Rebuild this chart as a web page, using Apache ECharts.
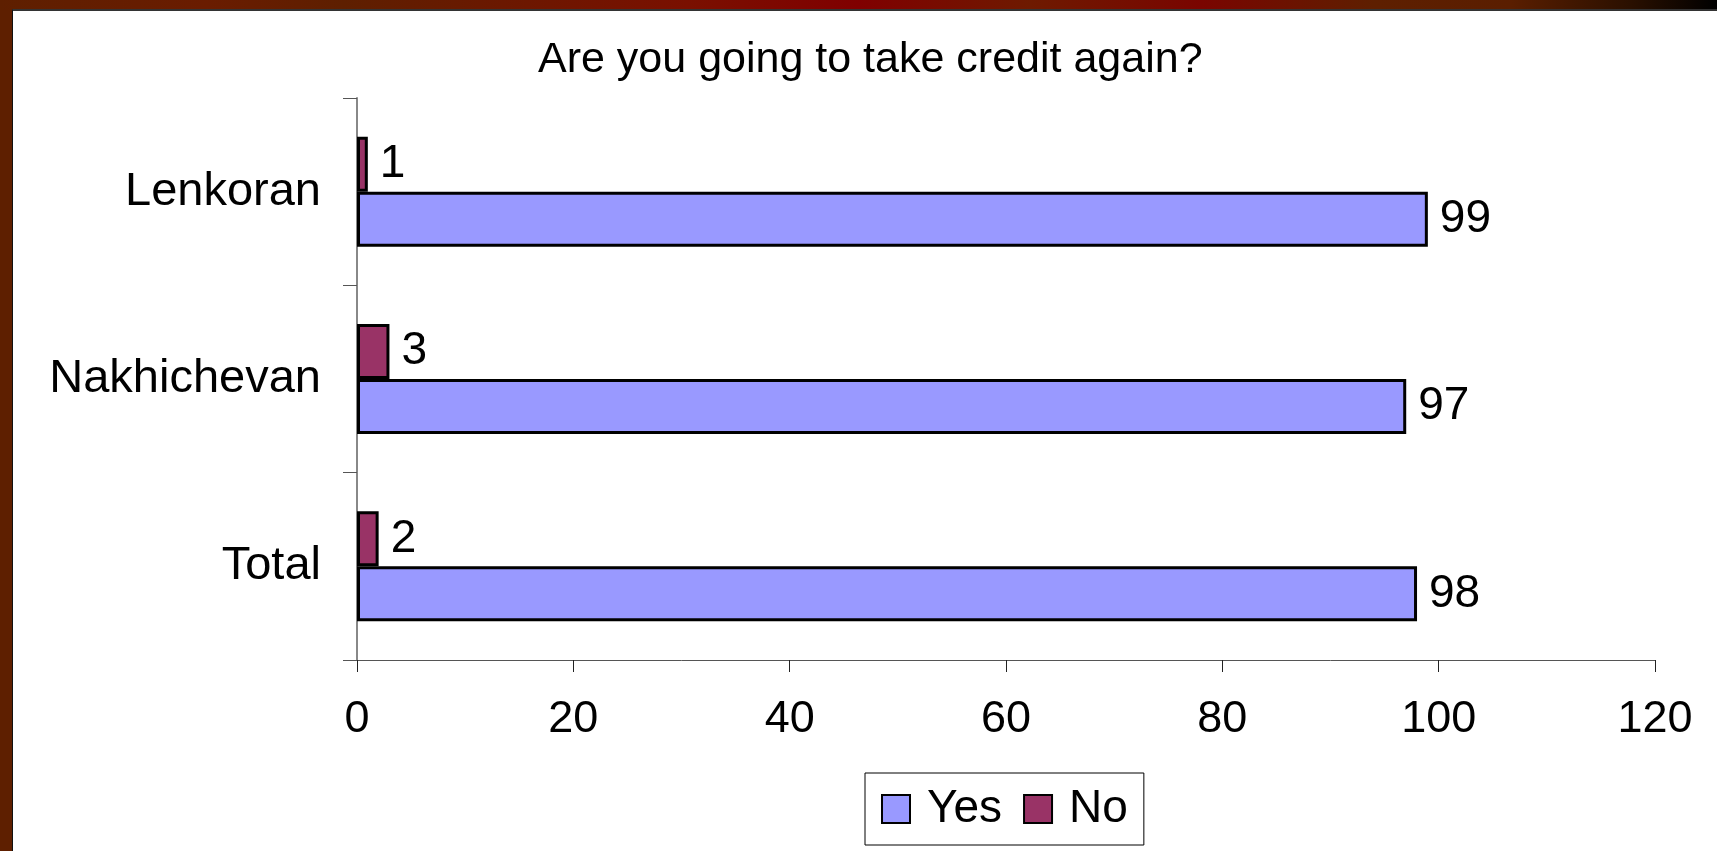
<!DOCTYPE html>
<html>
<head>
<meta charset="utf-8">
<script src="https://cdn.jsdelivr.net/npm/echarts@6/dist/echarts.min.js"></script>
<style>
  html, body { margin: 0; padding: 0; width: 1717px; height: 851px; overflow: hidden; background: #5e1f00; }
  #topbar {
    position: absolute; left: 0; top: 0; width: 1717px; height: 10px;
    background: linear-gradient(to right, #5e1f00 0%, #6a1c00 12%, #5e1f00 20%, #7a1000 40%, #800000 50%, #6e1a00 60%, #7a0500 70%, #5e1f00 80%, #5a1e00 88%, #2a1000 95%, #000 100%);
  }
  #paper {
    position: absolute; left: 12px; top: 9px; width: 1705px; height: 842px;
    background: #fff; border-left: 1px solid #111; border-top: 2px solid #333; box-sizing: border-box;
  }
  #chart { position: absolute; left: 0; top: 0; width: 1717px; height: 851px; }
</style>
</head>
<body>
<div id="topbar"></div>
<div id="paper"></div>
<div id="chart"></div>
<script>
// bottom-to-top order, so Lenkoran ends up on top
const categories = ['Total', 'Nakhichevan', 'Lenkoran'];
const yesValues = [98, 97, 99];
const noValues = [2, 3, 1];
const xTicks = [0, 20, 40, 60, 80, 100, 120];

const font = '"Liberation Sans", Arial, sans-serif';

const container = document.getElementById('chart');
var myChart = echarts.init(container, null, { renderer: 'canvas', width: 1717, height: 851 });

var labelStyle = { show: true, position: 'right', distance: 12, fontFamily: font, fontSize: 46, color: '#000' };

var option = {
  backgroundColor: 'transparent',
  animation: false,
  title: {
    text: 'Are you going to take credit again?',
    left: 533,
    top: 34,
    textStyle: { fontFamily: font, fontSize: 43, fontWeight: 'normal', color: '#000' }
  },
  legend: {
    data: ['Yes', 'No'],
    icon: 'rect',
    left: 865,
    top: 773,
    itemWidth: 28,
    itemHeight: 28,
    itemGap: 21,
    padding: [13, 16, 13, 16],
    borderColor: '#000',
    borderWidth: 1,
    backgroundColor: '#fff',
    textStyle: { fontFamily: font, fontSize: 46, color: '#000', lineHeight: 44, padding: [0, 0, 0, 12] }
  },
  grid: { left: 357, right: 62, top: 98, bottom: 191, containLabel: false },
  xAxis: {
    type: 'value',
    min: xTicks[0],
    max: xTicks[xTicks.length - 1],
    interval: 20,
    splitLine: { show: false },
    axisLine: { show: true, lineStyle: { color: '#555', width: 1 } },
    axisTick: { show: true, length: 12, lineStyle: { color: '#222' } },
    axisLabel: { fontFamily: font, fontSize: 45, color: '#000', margin: 37 }
  },
  yAxis: {
    type: 'category',
    data: categories,
    axisLine: { show: true, lineStyle: { color: '#888', width: 2 } },
    axisTick: { show: true, length: 14, lineStyle: { color: '#555' } },
    axisLabel: { fontFamily: font, fontSize: 47, color: '#000', margin: 36 }
  },
  // first series is drawn on top within each group, so "No" goes first
  series: [
    {
      name: 'No',
      type: 'bar',
      data: noValues,
      barWidth: 55,
      barGap: '0%',
      itemStyle: { color: '#993366', borderColor: '#000', borderWidth: 3 },
      label: labelStyle
    },
    {
      name: 'Yes',
      type: 'bar',
      data: yesValues,
      barWidth: 55,
      barGap: '0%',
      itemStyle: { color: '#9999ff', borderColor: '#000', borderWidth: 3 },
      label: labelStyle
    }
  ]
};
myChart.setOption(option);
</script>
</body>
</html>
